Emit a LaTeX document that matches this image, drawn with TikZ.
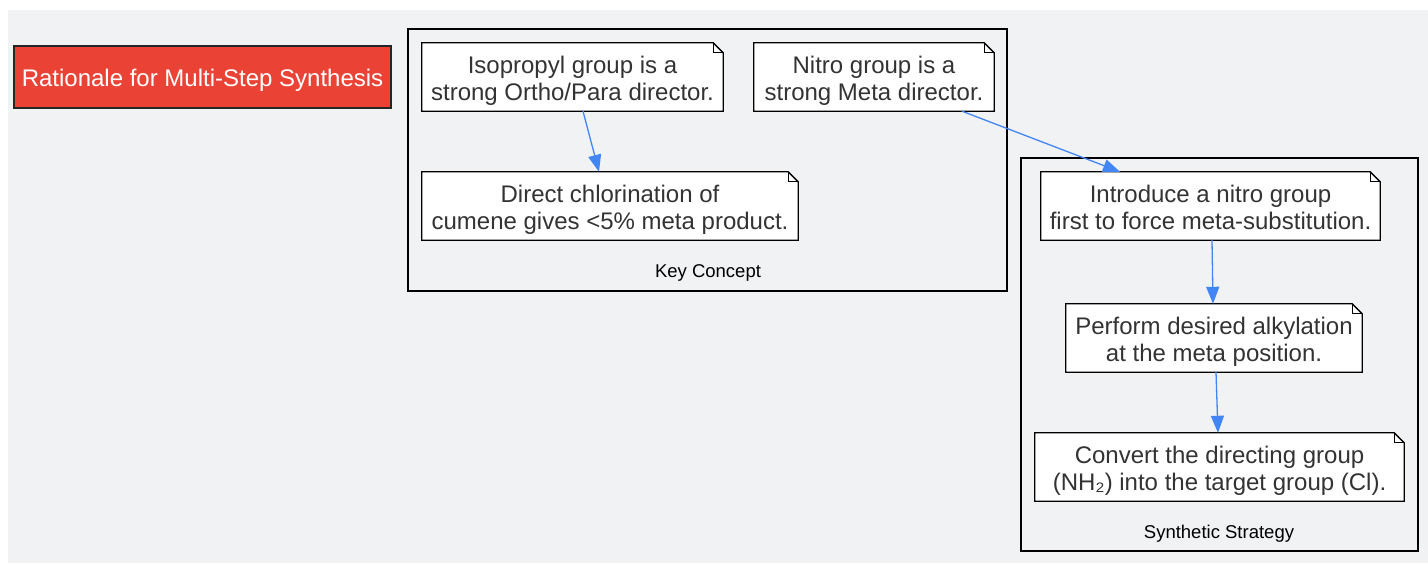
\documentclass[tikz,border=0pt]{standalone}
\usepackage{fontspec}
\setmainfont{Liberation Sans}
\usetikzlibrary{arrows.meta}
\definecolor{bggray}{HTML}{F1F2F4}
\definecolor{gred}{HTML}{EA4335}
\definecolor{gblue}{HTML}{4285F4}
\definecolor{inkgray}{HTML}{333333}

\tikzset{
	notebox/.style={fill=white, text=inkgray, inner sep=0pt, minimum height=68pt, align=center,
		text height=47.5pt, text depth=0pt, font=\fontsize{24}{27}\selectfont},
	noteline/.style={line width=1.3pt, black, line join=miter},
	clusterbox/.style={line width=1.3pt, black},
	clusterlabel/.style={font=\fontsize{18.5}{22}\selectfont, text=black},
	flow/.style={gblue, line width=1.3pt, -{Triangle[length=17pt,width=13pt]}}
}

% folded corner of a note
\newcommand{\notecorner}[1]{%
	\fill[bggray] ([xshift=-10pt]#1.north east) -- (#1.north east) -- ([yshift=-10pt]#1.north east) -- cycle;
	\draw[noteline] (#1.north west) -- ([xshift=-10pt]#1.north east) -- ([yshift=-10pt]#1.north east) -- (#1.south east) -- (#1.south west) -- cycle;
	\draw[noteline] ([xshift=-10pt]#1.north east) |- ([yshift=-10pt]#1.north east);}

\begin{document}
\begin{tikzpicture}[x=1pt, y=-1pt]
		\useasboundingbox (0,0) rectangle (1428,563);
		\fill[white] (0,0) rectangle (1428,563);
		\fill[bggray] (8,10) rectangle (1428,563);

		% clusters
		\draw[clusterbox] (408,29) rectangle (1007,291);
		\node[clusterlabel] (keylbl) at (708,273) {Key Concept};
		\draw[clusterbox] (1021,158) rectangle (1418,551);
		\node[clusterlabel] (stratlbl) at (1219,534) {Synthetic Strategy};

		\node[draw=black!85, line width=1.3pt, fill=gred, text=white, minimum width=377pt, minimum height=62pt,
			inner sep=0pt, text height=18.5pt, text depth=0pt, font=\fontsize{24}{27}\selectfont] (title) at (202.5,77) {Rationale for Multi-Step Synthesis};

		\node[notebox, minimum width=301pt] (iso) at (572.5,77) {Isopropyl group is a\\strong Ortho/Para director.};
		\node[notebox, minimum width=240pt] (nitro) at (874,77) {Nitro group is a\\strong Meta director.};
		\node[notebox, minimum width=376pt] (direct) at (610,206) {Direct chlorination of\\cumene gives <5\% meta product.};
		\node[notebox, minimum width=339pt] (intro) at (1210.5,206) {Introduce a nitro group\\first to force meta-substitution.};
		\node[notebox, minimum width=296pt] (perform) at (1214,338) {Perform desired alkylation\\at the meta position.};
		\node[notebox, minimum width=369pt] (convert) at (1219.5,467) {Convert the directing group\\(NH₂) into the target group (Cl).};
		\foreach \n in {iso, nitro, direct, intro, perform, convert}
			\notecorner{\n};

		\draw[flow] ([xshift=10.5pt]iso.south) -- ([xshift=-11pt]direct.north);
		\draw[flow] ([xshift=88pt]nitro.south) -- ([xshift=-90.5pt]intro.north);
		\draw[flow] ([xshift=1.5pt]intro.south) -- ([xshift=-1pt]perform.north);
		\draw[flow] ([xshift=2pt]perform.south) -- ([xshift=-1.5pt]convert.north);
	\end{tikzpicture}
\end{document}
